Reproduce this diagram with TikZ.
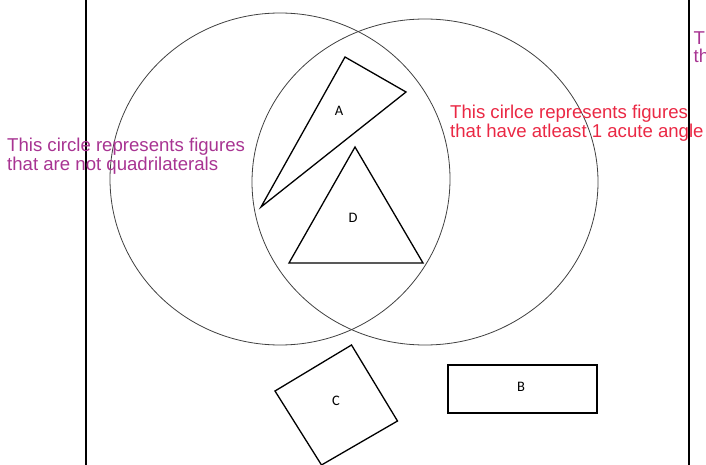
\documentclass[tikz,border=0pt]{standalone}
\usepackage{fontspec}
\setmainfont{Liberation Sans}
\newfontfamily\labelfont{Carlito}
\usetikzlibrary{positioning}
\definecolor{notquadpurple}{RGB}{168,52,146}
\definecolor{acutered}{RGB}{234,40,68}

\begin{document}
\begin{tikzpicture}[x=1pt, y=-1pt,
    setcircle/.style={draw=black!75, line width=0.8pt},
    figshape/.style={draw=black, line width=1.3pt, line join=miter},
    figlabel/.style={font=\labelfont\fontsize{14.5}{16}\selectfont, inner sep=0pt},
    note/.style={font=\fontsize{18.6}{#1}\selectfont, align=left, anchor=north west, inner sep=0pt},
    note/.default=17,
    border/.style={draw=black, line width=2pt},
]
    \useasboundingbox (0,0) rectangle (706,465);
    % frame lines
    \coordinate (ltop) at (86,0);
    \coordinate (lbot) at (86,465);
    \coordinate (rtop) at (689,0);
    \coordinate (rbot) at (689,465);
    \draw[border] (ltop) -- (lbot);
    \draw[border] (rtop) -- (rbot);
    % the two sets
    \coordinate (notquad) at (280,179);
    \coordinate (acute) at (425,182);
    \draw[setcircle] (notquad) ellipse [x radius=170, y radius=166];
    \draw[setcircle] (acute) ellipse [x radius=173, y radius=163];
    % triangle A
    \coordinate (a1) at (345,57);
    \coordinate (a2) at (406,92);
    \coordinate (a3) at (261,207);
    \draw[figshape] (a1) -- (a2) -- (a3) -- cycle;
    \node[figlabel] (A) at (339,111) {A};
    % triangle D
    \coordinate (d1) at (355,147);
    \coordinate (d2) at (423,263);
    \coordinate (d3) at (289,263);
    \draw[figshape] (d1) -- (d2) -- (d3) -- cycle;
    \node[figlabel] (D) at (353,218) {D};
    % square C
    \coordinate (c1) at (351.5,345);
    \coordinate (c2) at (397.5,421);
    \coordinate (c3) at (321.5,465);
    \coordinate (c4) at (275,391);
    \draw[figshape] (c1) -- (c2) -- (c3) -- (c4) -- cycle;
    \node[figlabel] (C) at (336,401) {C};
    % rectangle B
    \coordinate (b1) at (448,365);
    \coordinate (b2) at (597,413);
    \draw[figshape] (b1) rectangle (b2);
    \node[figlabel] (B) at (521,387) {B};
    % notes
    \node[note=16.3, text=notquadpurple] (leftnote) at (7,138)
        {This circle represents figures\\that are not quadrilaterals};
    \node[note=19.3, text=acutered] (rightnote) at (450,104.7)
        {This cirlce represents figures\\that have atleast 1 acute angle};
    \node[note=18, text=notquadpurple] (cutnote) at (693.5,32) {T\\th};
\end{tikzpicture}
\end{document}
